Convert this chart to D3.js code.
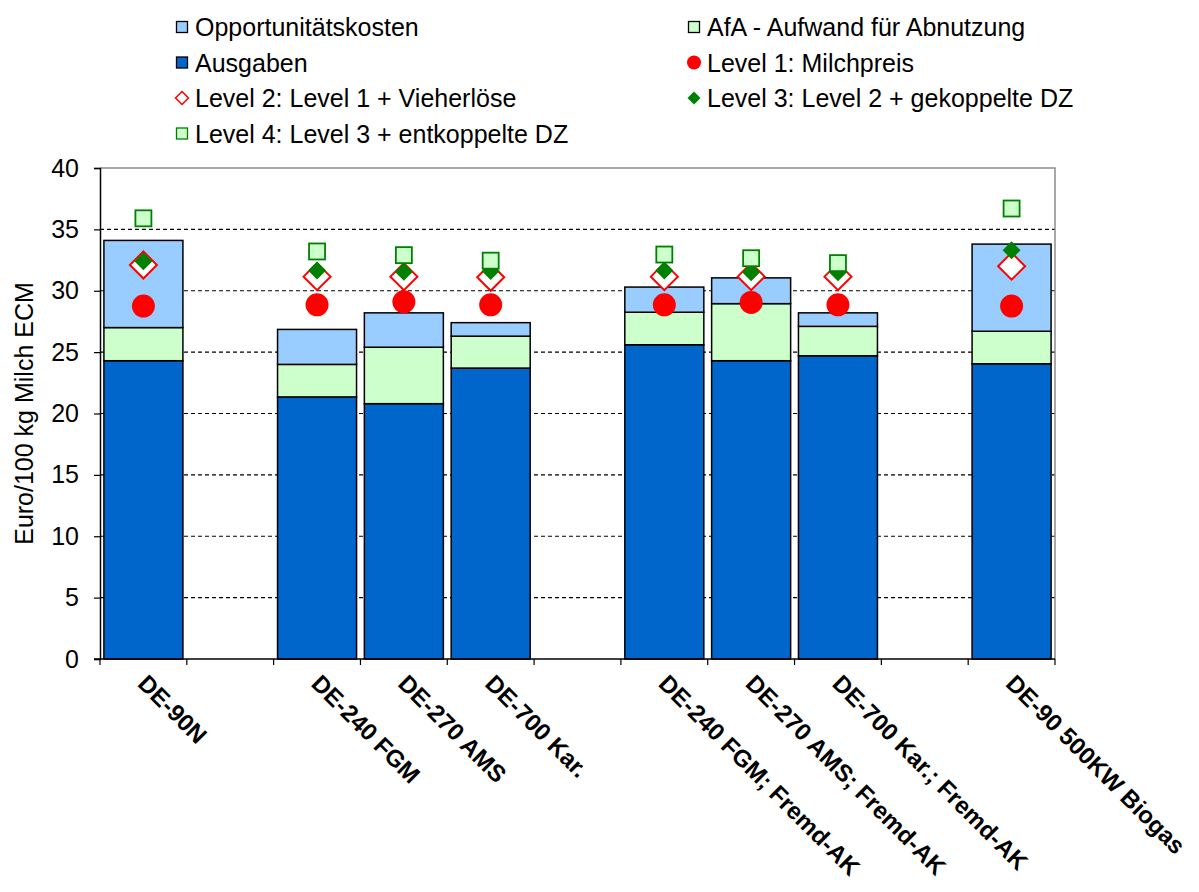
<!DOCTYPE html>
<html>
<head>
<meta charset="utf-8">
<script src="https://cdn.jsdelivr.net/npm/d3@7"></script>
<style>
  body { margin: 0; background: #fff; }
  svg text { font-family: "Liberation Sans", Arial, sans-serif; fill: #000; }
</style>
</head>
<body>
<svg id="chart" width="1199" height="892"></svg>
<script>
// Farm types; empty entries are spacer slots between groups
const categories = ["DE-90N", "", "DE-240 FGM", "DE-270 AMS", "DE-700 Kar.", "",
  "DE-240 FGM; Fremd-AK", "DE-270 AMS; Fremd-AK", "DE-700 Kar.; Fremd-AK", "", "DE-90 500KW Biogas"];

// Cost components (Euro/100 kg Milch ECM), stacked bottom to top
const ausgaben = [24.3, null, 21.35, 20.8, 23.7, null, 25.6, 24.3, 24.7, null, 24.05];
const afa      = [2.7,  null, 2.65,  4.6,  2.6,  null, 2.65, 4.65, 2.4,  null, 2.65];
const opportunitaet = [7.1, null, 2.85, 2.8, 1.1, null, 2.05, 2.1, 1.1, null, 7.1];

// Revenue levels
const level1 = [28.75, null, 28.85, 29.1, 28.85, null, 28.85, 29.05, 28.85, null, 28.75];
const level2 = [32.1,  null, 31.15, 31.15, 31.1, null, 31.15, 31.15, 31.15, null, 32.0];
const level3 = [32.4,  null, 31.65, 31.55, 31.6, null, 31.65, 31.5, 31.5, null, 33.3];
const level4 = [35.9,  null, 33.2,  32.9, 32.45, null, 32.95, 32.65, 32.25, null, 36.7];

const yTicks = [0, 5, 10, 15, 20, 25, 30, 35, 40];

const svg = d3.select("#chart");
const margin = { left: 100, right: 144, top: 168, bottom: 233 };
const W = 1199, H = 892;
const plotW = W - margin.left - margin.right;
const plotH = H - margin.top - margin.bottom;

const x = d3.scaleBand()
  .domain(d3.range(categories.length))
  .range([margin.left, margin.left + plotW])
  .paddingInner(0.09)
  .paddingOuter(0.045);

const y = d3.scaleLinear().domain([0, 40]).range([margin.top + plotH, margin.top]);

// Horizontal dashed gridlines
svg.append("g")
  .selectAll("line")
  .data(yTicks.filter(t => t > 0 && t < 40))
  .join("line")
  .attr("x1", margin.left).attr("x2", margin.left + plotW)
  .attr("y1", d => y(d)).attr("y2", d => y(d))
  .attr("stroke", "#000").attr("stroke-width", 1.2)
  .attr("stroke-dasharray", "4,3");

// Plot frame: top and right in grey
svg.append("path")
  .attr("d", `M${margin.left},${y(40)}H${margin.left + plotW}V${y(0)}`)
  .attr("fill", "none").attr("stroke", "#8c8c8c").attr("stroke-width", 1.5);

// Stacked bars
const layers = [
  { key: "Ausgaben", values: ausgaben, color: "#0066cc" },
  { key: "AfA", values: afa, color: "#ccffcc" },
  { key: "Opportunitätskosten", values: opportunitaet, color: "#99ccff" }
];
const barG = svg.append("g");
categories.forEach((c, i) => {
  if (ausgaben[i] == null) return;
  let base = 0;
  layers.forEach(l => {
    const v = l.values[i];
    barG.append("rect")
      .attr("x", x(i))
      .attr("width", x.bandwidth())
      .attr("y", y(base + v))
      .attr("height", y(base) - y(base + v))
      .attr("fill", l.color)
      .attr("stroke", "#000")
      .attr("stroke-width", 1.5);
    base += v;
  });
});

// Markers
const mG = svg.append("g");
const cx = i => x(i) + x.bandwidth() / 2;
const idx = d3.range(categories.length).filter(i => level1[i] != null);

mG.selectAll("circle.l1").data(idx).join("circle")
  .attr("cx", cx).attr("cy", i => y(level1[i])).attr("r", 11.5)
  .attr("fill", "#ff0000");

const diamond = (s) => `M0,${-s}L${s},0L0,${s}L${-s},0Z`;
mG.selectAll("path.l2").data(idx).join("path")
  .attr("transform", i => `translate(${cx(i)},${y(level2[i])})`)
  .attr("d", diamond(13.5))
  .attr("fill", "#fff").attr("stroke", "#ff0000").attr("stroke-width", 2);

mG.selectAll("path.l3").data(idx).join("path")
  .attr("transform", i => `translate(${cx(i)},${y(level3[i])})`)
  .attr("d", diamond(9))
  .attr("fill", "#008000");

mG.selectAll("rect.l4").data(idx).join("rect")
  .attr("x", i => cx(i) - 8).attr("y", i => y(level4[i]) - 8)
  .attr("width", 16).attr("height", 16)
  .attr("fill", "#ccffcc").attr("stroke", "#008000").attr("stroke-width", 1.8);

// Y axis
const yAxis = svg.append("g")
  .attr("transform", `translate(${margin.left},0)`)
  .call(d3.axisLeft(y).tickValues(yTicks).tickSize(6).tickPadding(15));
yAxis.select(".domain").attr("stroke", "#000").attr("stroke-width", 1.5);
yAxis.selectAll(".tick line").attr("stroke", "#000").attr("stroke-width", 1.2);
yAxis.selectAll(".tick text").attr("font-size", 25).attr("font-family", "Liberation Sans, Arial, sans-serif");

// X axis with ticks at slot boundaries
const xg = svg.append("g");
xg.append("line")
  .attr("x1", margin.left - 6).attr("x2", margin.left + plotW)
  .attr("y1", y(0)).attr("y2", y(0))
  .attr("stroke", "#000").attr("stroke-width", 1.5);
xg.selectAll("line.t").data(d3.range(categories.length + 1)).join("line")
  .attr("x1", k => margin.left + k * plotW / categories.length)
  .attr("x2", k => margin.left + k * plotW / categories.length)
  .attr("y1", y(0)).attr("y2", y(0) + 6)
  .attr("stroke", "#000").attr("stroke-width", 1.2);

xg.selectAll("text").data(idx).join("text")
  .attr("transform", i => `translate(${cx(i) - 7},${y(0) + 26}) rotate(45)`)
  .attr("font-size", 24).attr("font-weight", "bold")
  .attr("text-anchor", "start")
  .text(i => categories[i]);

// Y axis title
svg.append("text")
  .attr("transform", `translate(33,${(y(0) + y(40)) / 2}) rotate(-90)`)
  .attr("text-anchor", "middle")
  .attr("font-size", 25)
  .text("Euro/100 kg Milch ECM");

// Legend
const legendItems = [
  { label: "Opportunitätskosten", type: "box", fill: "#99ccff", stroke: "#000" },
  { label: "AfA - Aufwand für Abnutzung", type: "box", fill: "#ccffcc", stroke: "#000" },
  { label: "Ausgaben", type: "box", fill: "#0066cc", stroke: "#000" },
  { label: "Level 1: Milchpreis", type: "circle", fill: "#ff0000" },
  { label: "Level 2: Level 1 + Vieherlöse", type: "diamondOpen" },
  { label: "Level 3: Level 2 + gekoppelte DZ", type: "diamondFill" },
  { label: "Level 4: Level 3 + entkoppelte DZ", type: "box", fill: "#ccffcc", stroke: "#008000" }
];
const legG = svg.append("g");
legendItems.forEach((d, k) => {
  const col = k % 2, row = Math.floor(k / 2);
  const lx = col === 0 ? 182 : 694;
  const ly = 27 + row * 35.5;
  const g = legG.append("g").attr("transform", `translate(${lx},${ly})`);
  if (d.type === "box") {
    g.append("rect").attr("x", -5.5).attr("y", -5.5).attr("width", 11).attr("height", 11)
      .attr("fill", d.fill).attr("stroke", d.stroke).attr("stroke-width", 1.3);
  } else if (d.type === "circle") {
    g.append("circle").attr("r", 7).attr("fill", d.fill);
  } else if (d.type === "diamondOpen") {
    g.append("path").attr("d", diamond(6.5)).attr("fill", "#fff").attr("stroke", "#ff0000").attr("stroke-width", 1.5);
  } else {
    g.append("path").attr("d", diamond(6.5)).attr("fill", "#008000");
  }
  g.append("text").attr("x", 13).attr("y", 0).attr("dy", "0.36em")
    .attr("font-size", 25).text(d.label);
});
</script>
</body>
</html>
